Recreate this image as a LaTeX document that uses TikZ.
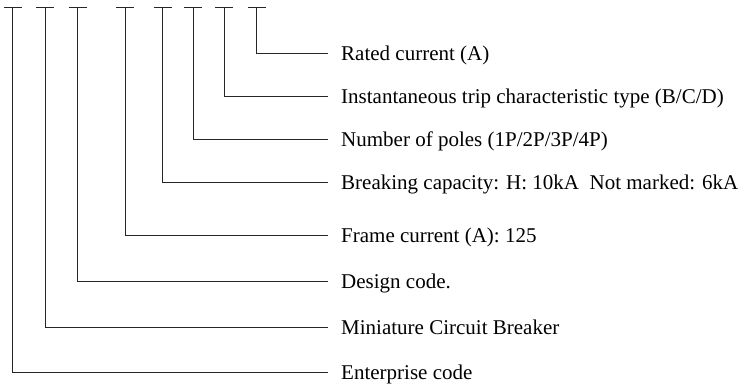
\documentclass[tikz,border=0pt]{standalone}
\usepackage{fontspec}
\setmainfont{Liberation Serif}
\usetikzlibrary{positioning}

\begin{document}
\begin{tikzpicture}[
    x=1pt, y=-1pt,
    lead/.style={draw=black!85, line width=0.9pt},
    codetext/.style={inner sep=0pt, text height=14pt, text depth=0pt, font=\fontsize{21}{25}\selectfont},
]
\useasboundingbox (0,0) rectangle (742,384);

% Tops of the code letters
\coordinate (t1) at (12.5,7);
\coordinate (t2) at (45,7);
\coordinate (t3) at (77.5,7);
\coordinate (t4) at (125,7);
\coordinate (t5) at (162.5,7);
\coordinate (t6) at (193,7);
\coordinate (t7) at (224,7);
\coordinate (t8) at (256.5,7);

% Line ends
\coordinate (e1) at (328,372);
\coordinate (e2) at (328,327);
\coordinate (e3) at (328,281);
\coordinate (e4) at (328,235);
\coordinate (e5) at (328,182);
\coordinate (e6) at (328,139.5);
\coordinate (e7) at (328,96.5);
\coordinate (e8) at (328,53.5);

% Labels
\node[codetext, right=13pt of e1] (enterprise) {Enterprise code};
\node[codetext, right=13pt of e2] (mcb) {Miniature Circuit Breaker};
\node[codetext, right=13pt of e3] (design) {Design code.};
\node[codetext, right=13pt of e4] (frame) {Frame current (A): 125};
\node[codetext, right=13pt of e5] (breaking) {Breaking capacity: H: 10kA\ \ Not marked: 6kA};
\node[codetext, right=13pt of e6] (poles) {Number of poles (1P/2P/3P/4P)};
\node[codetext, right=13pt of e7] (trip) {Instantaneous trip characteristic type (B/C/D)};
\node[codetext, right=13pt of e8] (rated) {Rated current (A)};

% Bars and leaders
\draw[lead] ([xshift=-9pt]t1) -- ([xshift=9pt]t1) (t1) |- (e1);
\draw[lead] ([xshift=-9pt]t2) -- ([xshift=9pt]t2) (t2) |- (e2);
\draw[lead] ([xshift=-9pt]t3) -- ([xshift=9pt]t3) (t3) |- (e3);
\draw[lead] ([xshift=-9pt]t4) -- ([xshift=9pt]t4) (t4) |- (e4);
\draw[lead] ([xshift=-9pt]t5) -- ([xshift=9pt]t5) (t5) |- (e5);
\draw[lead] ([xshift=-9pt]t6) -- ([xshift=9pt]t6) (t6) |- (e6);
\draw[lead] ([xshift=-9pt]t7) -- ([xshift=9pt]t7) (t7) |- (e7);
\draw[lead] ([xshift=-9pt]t8) -- ([xshift=9pt]t8) (t8) |- (e8);

\end{tikzpicture}
\end{document}
